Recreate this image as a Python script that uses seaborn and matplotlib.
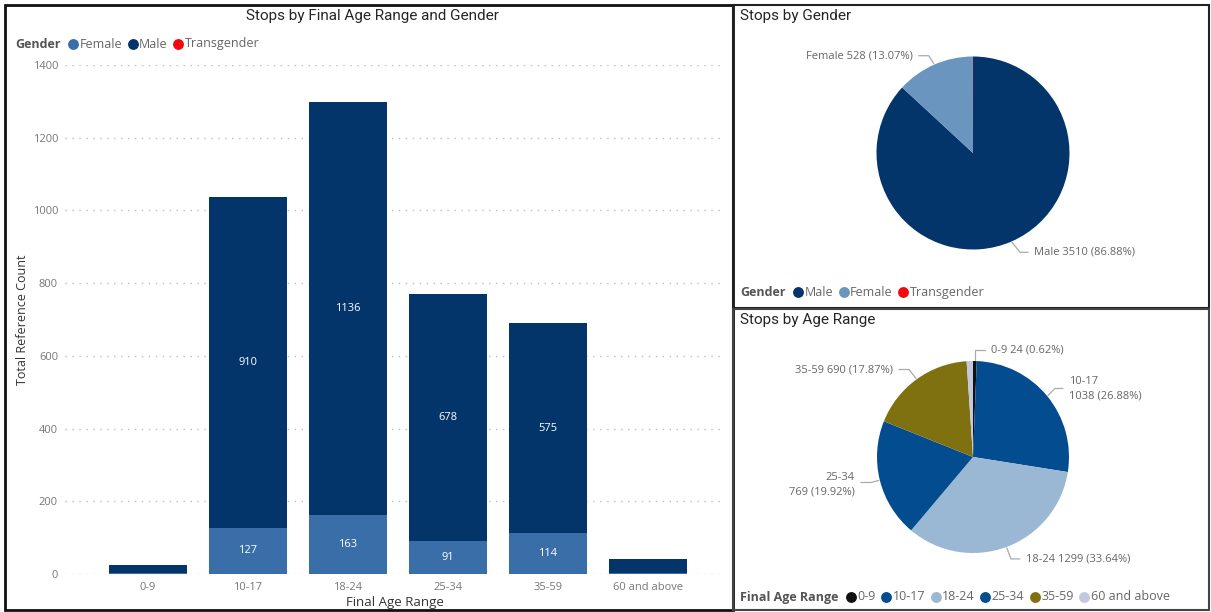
import numpy as np
import pandas as pd
import matplotlib
matplotlib.use("Agg")
import matplotlib.pyplot as plt
from matplotlib.lines import Line2D
from matplotlib.patches import Rectangle
import seaborn as sns

# ---------------- data ----------------
age_ranges = ["0-9", "10-17", "18-24", "25-34", "35-59", "60 and above"]
female_counts = [4, 127, 163, 91, 114, 4]
male_counts = [20, 910, 1136, 678, 575, 37]
trans_counts = [0, 1, 0, 0, 1, 0]

gender_labels = ["Male", "Female", "Transgender"]
gender_totals = [3510, 528, 2]
gender_pcts = ["86.88%", "13.07%", "0.05%"]

age_pie_labels = ["0-9", "10-17", "18-24", "25-34", "35-59", "60 and above"]
age_pie_values = [24, 1038, 1299, 769, 690, 41]
age_pie_pcts = ["0.62%", "26.88%", "33.64%", "19.92%", "17.87%", "1.06%"]

yticks = [0, 200, 400, 600, 800, 1000, 1200, 1400]

# ---------------- style ----------------
C_MALE = "#04356A"
C_FEMALE_BAR = "#3A6EA8"
C_FEMALE_PIE = "#6A95BF"
C_TRANS = "#F2090F"
AGE_COLORS = ["#111111", "#034C90", "#9AB7D4", "#034C90", "#7F7010", "#C3C8E0"]
GREY = "#777777"
TXT = "#666666"

sns.set_theme(style="white")
plt.rcParams["font.family"] = ["Open Sans", "DejaVu Sans"]
TITLE_FONT = ["Roboto", "DejaVu Sans"]

W, H = 1211, 612
fig = plt.figure(figsize=(W / 100, H / 100), dpi=100)
fig.patch.set_facecolor("white")


def fx(x):
    return x / W


def fy(y):
    return 1 - y / H


# ---------------- panel borders ----------------
for (x0, y0, x1, y1, lw, col) in [
    (5, 5, 733, 610, 2.0, "#111111"),
    (733, 5, 1209, 308, 1.5, "#222222"),
    (733, 309, 1209, 610, 1.5, "#444444"),
]:
    fig.add_artist(Rectangle((fx(x0), fy(y1)), fx(x1 - x0), (y1 - y0) / H,
                             transform=fig.transFigure, fill=False,
                             edgecolor=col, lw=lw, zorder=10))

renderer = fig.canvas.get_renderer()


def inline_legend(x, y, title, labels, colors, size=9):
    t = fig.text(fx(x), fy(y), title, fontsize=size, fontweight="bold",
                 color="#555555", va="center", ha="left")
    x += t.get_window_extent(renderer).width + 8
    for lab, c in zip(labels, colors):
        fig.add_artist(Line2D([fx(x + 4.5)], [fy(y)], marker="o", ms=6.8,
                              color=c, mec=c, transform=fig.transFigure))
        tt = fig.text(fx(x + 11), fy(y), lab, fontsize=size, color="#666666",
                      va="center", ha="left")
        x += 11 + tt.get_window_extent(renderer).width + 6


# ---------------- bar chart ----------------
df = pd.DataFrame({
    "age": age_ranges,
    "Female": female_counts,
    "Male": male_counts,
    "Transgender": trans_counts,
})
df["fm"] = df["Female"] + df["Male"]
df["total"] = df["fm"] + df["Transgender"]

ax = fig.add_axes([fx(65), fy(574), (725 - 65) / W, (574 - 65) / H])
bw = 0.78
sns.barplot(data=df, x="age", y="total", color=C_TRANS, saturation=1,
            width=bw, errorbar=None, ax=ax, order=age_ranges, linewidth=0)
sns.barplot(data=df, x="age", y="fm", color=C_MALE, saturation=1,
            width=bw, errorbar=None, ax=ax, order=age_ranges, linewidth=0)
sns.barplot(data=df, x="age", y="Female", color=C_FEMALE_BAR, saturation=1,
            width=bw, errorbar=None, ax=ax, order=age_ranges, linewidth=0)
ax.set_ylim(0, 1400)
ax.set_xlim(-0.83, 5.77)
ax.set_yticks(yticks)
ax.set_yticklabels([str(v) for v in yticks], fontsize=8, color=GREY)
ax.tick_params(axis="x", labelsize=8, labelcolor=GREY, length=0, pad=6)
ax.tick_params(axis="y", length=0, pad=5)
ax.yaxis.grid(True, linestyle=(0, (1, 4)), color="#BBBBBB", lw=1)
ax.set_axisbelow(True)
for s in ax.spines.values():
    s.set_visible(False)
ax.set_xlabel("Final Age Range", fontsize=9.5, color="#333333", labelpad=2)
ax.set_ylabel("Total Reference Count", fontsize=9, color="#333333")
ax.yaxis.set_label_coords((29 - 65) / 660, 0.5)

for i, row in df.iterrows():
    if row["total"] < 200:
        continue
    ax.text(i, row["Female"] + row["Male"] / 2, str(row["Male"]), ha="center",
            va="center", color="white", fontsize=8)
    ax.text(i, row["Female"] / 2, str(row["Female"]), ha="center",
            va="center", color="white", fontsize=8)

fig.text(fx(372), fy(16), "Stops by Final Age Range and Gender", fontsize=11,
         family=TITLE_FONT, color="#252525", ha="center", va="center")
inline_legend(15, 44, "Gender", ["Female", "Male", "Transgender"],
              [C_FEMALE_BAR, C_MALE, C_TRANS])

# ---------------- overlay for leader lines ----------------
ov = fig.add_axes([0, 0, 1, 1], zorder=5)
ov.set_xlim(0, W)
ov.set_ylim(H, 0)
ov.axis("off")
ov.patch.set_alpha(0)


def pie_axes(cx, cy, r):
    a = fig.add_axes([fx(cx - r), fy(cy + r), 2 * r / W, 2 * r / H])
    return a


def anchor(cx, cy, r, ang):
    rad = np.deg2rad(ang)
    return cx + r * np.cos(rad), cy - r * np.sin(rad)


def mid_angles(vals):
    tot = float(sum(vals))
    cum = np.cumsum([0] + list(vals))
    return [90 - 360 * (cum[i] + vals[i] / 2) / tot for i in range(len(vals))]


def leader(pt, elbow, end, text, ha, va_y):
    ov.plot([pt[0], elbow[0], end[0]], [pt[1], elbow[1], end[1]],
            color="#AAAAAA", lw=0.9)
    tx = end[0] + (6 if ha == "left" else -6)
    ov.text(tx, va_y, text, ha=ha, va="center", fontsize=8, color=TXT,
            linespacing=1.45)


# ---------------- gender pie ----------------
gcx, gcy, gr = 973, 153, 96.5
pa = pie_axes(gcx, gcy, gr)
pa.pie(gender_totals, colors=[C_MALE, C_FEMALE_PIE, C_TRANS], startangle=90,
       counterclock=False, wedgeprops=dict(linewidth=0))
pa.set_xlim(-1, 1)
pa.set_ylim(-1, 1)
ga = mid_angles(gender_totals)
p = anchor(gcx, gcy, gr + 1, ga[0])
leader(p, (p[0] + 8, p[1] + 10), (p[0] + 16, p[1] + 10),
       f"{gender_labels[0]} {gender_totals[0]} ({gender_pcts[0]})", "left", p[1] + 10)
p = anchor(gcx, gcy, gr + 1, ga[1])
leader(p, (p[0] - 5, p[1] - 8), (p[0] - 15, p[1] - 8),
       f"{gender_labels[1]} {gender_totals[1]} ({gender_pcts[1]})", "right", p[1] - 8)

fig.text(fx(740), fy(16), "Stops by Gender", fontsize=11, family=TITLE_FONT,
         color="#252525", ha="left", va="center")
inline_legend(740, 292, "Gender", gender_labels, [C_MALE, C_FEMALE_PIE, C_TRANS])

# ---------------- age pie ----------------
acx, acy, ar = 973, 457, 96
pb = pie_axes(acx, acy, ar)
pb.pie(age_pie_values, colors=AGE_COLORS, startangle=90, counterclock=False,
       wedgeprops=dict(linewidth=0))
pb.set_xlim(-1, 1)
pb.set_ylim(-1, 1)
aa = mid_angles(age_pie_values)
# 0-9
p = anchor(acx, acy, ar + 1, aa[0])
leader(p, (p[0], p[1] - 10), (p[0] + 10, p[1] - 10),
       f"{age_pie_labels[0]} {age_pie_values[0]} ({age_pie_pcts[0]})", "left", p[1] - 10)
# 10-17
p = anchor(acx, acy, ar + 1, aa[1])
leader(p, (p[0] + 7, p[1] - 7), (p[0] + 15, p[1] - 7),
       f"{age_pie_labels[1]}\n{age_pie_values[1]} ({age_pie_pcts[1]})", "left", p[1] - 7)
# 18-24
p = anchor(acx, acy, ar + 1, aa[2])
leader(p, (p[0] + 4, p[1] + 11), (p[0] + 13, p[1] + 11),
       f"{age_pie_labels[2]} {age_pie_values[2]} ({age_pie_pcts[2]})", "left", p[1] + 11)
# 25-34
p = anchor(acx, acy, ar + 1, aa[3])
leader(p, (p[0] - 8, p[1] + 2), (p[0] - 18, p[1] + 2),
       f"{age_pie_labels[3]}\n{age_pie_values[3]} ({age_pie_pcts[3]})", "right", p[1] + 4)
# 35-59
p = anchor(acx, acy, ar + 1, aa[4])
leader(p, (p[0] - 7, p[1] - 9), (p[0] - 17, p[1] - 9),
       f"{age_pie_labels[4]} {age_pie_values[4]} ({age_pie_pcts[4]})", "right", p[1] - 9)

fig.text(fx(740), fy(320), "Stops by Age Range", fontsize=11, family=TITLE_FONT,
         color="#252525", ha="left", va="center")
inline_legend(740, 597, "Final Age Range", age_pie_labels, AGE_COLORS)

fig.savefig("out.png", dpi=100, facecolor="white")
